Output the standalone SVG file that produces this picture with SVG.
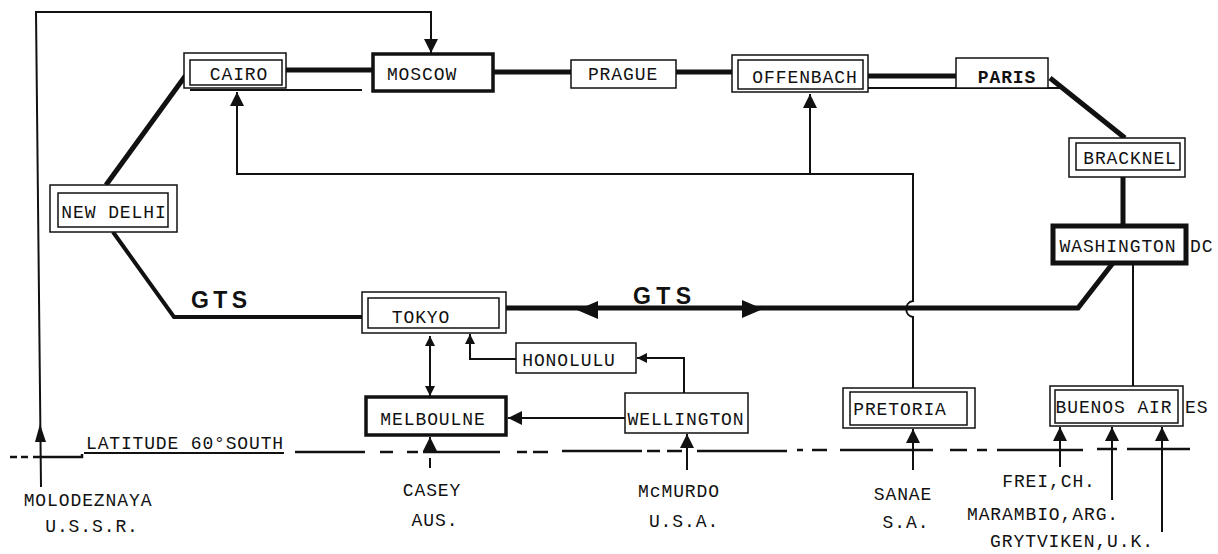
<svg xmlns="http://www.w3.org/2000/svg" width="1218" height="554" viewBox="0 0 1218 554">
<style>
.t{font-family:"Liberation Mono","DejaVu Sans Mono",monospace;font-size:18px;letter-spacing:0.9px;text-anchor:middle;fill:#111}
.b{font-weight:bold}
.g{font-family:"Liberation Sans",Arial,sans-serif;font-weight:bold;font-size:23px;fill:#111;text-anchor:middle}
.box{fill:#fff;stroke:#111;stroke-width:1.5}
.inner{fill:none;stroke:#111;stroke-width:1.5}
.thin{fill:none;stroke:#111;stroke-width:2}
.thick{fill:none;stroke:#111;stroke-width:5}
.lat{fill:none;stroke:#111;stroke-width:2.5}
.ah{fill:#111}
</style>
<defs>
<marker id="arr" viewBox="0 0 10 10" refX="10" refY="5" markerWidth="10" markerHeight="10" markerUnits="userSpaceOnUse" orient="auto-start-reverse">
<path d="M0,0 L10,5 L0,10 z" fill="#111"/>
</marker>
<marker id="arrB" viewBox="0 0 12 12" refX="12" refY="6" markerWidth="14" markerHeight="14" markerUnits="userSpaceOnUse" orient="auto-start-reverse">
<path d="M0,0 L12,6 L0,12 z" fill="#111"/>
</marker>
</defs>
<rect width="1218" height="554" fill="#fff"/>
<g id="connectors">
<path class="thin" d="M41,487 L36,12 H431 V53" marker-end="url(#arrB)"/>
<polygon class="ah" points="40,424 35,442 46,442"/>
<path class="thin" d="M913,388 V317 C904,316 904,302 913,301 V174 H237 V92" marker-end="url(#arrB)"/>
<path class="thin" d="M810,174 V94" marker-end="url(#arrB)"/>
<path class="thin" d="M1133,265 V386"/>
<path class="thin" d="M430,396 V336" marker-start="url(#arr)" marker-end="url(#arr)"/>
<path class="thin" d="M516,359 H470 V334" marker-end="url(#arr)"/>
<path class="thin" d="M684,393 V358 H637" marker-end="url(#arr)"/>
<path class="thin" d="M625,418 H508" marker-end="url(#arrB)"/>
<path class="thin" d="M430,452 V437" marker-end="url(#arrB)"/>
<path class="thin" d="M430,458 V468"/>
<path class="thin" d="M687,470 V434" marker-end="url(#arrB)"/>
<path class="thin" d="M913,470 V429" marker-end="url(#arrB)"/>
<path class="thin" d="M1060,467 V427" marker-end="url(#arrB)"/>
<path class="thin" d="M1112,500 V427" marker-end="url(#arrB)"/>
<path class="thin" d="M1162,532 V427" marker-end="url(#arrB)"/>
<path class="thick" d="M286,70 H373"/>
<path class="thick" d="M493,72 H571"/>
<path class="thick" d="M676,72 H732"/>
<path class="thick" d="M868,76 H956"/>
<path class="thin" d="M868,88 H1060"/>
<path class="thin" d="M190,90 H362"/>
<path class="thick" d="M1050,78 L1125,138"/>
<path class="thick" d="M1123,177 V226"/>
<path class="thick" d="M1113,263 L1078,308 H506"/>
<polygon class="ah" points="577,310 598,301 598,319"/>
<polygon class="ah" points="763,309 742,300 742,318"/>
<path class="thick" d="M186,75 L106,185"/>
<path class="thick" d="M113,232 L174,317 H362" style="stroke-width:4"/>
<path class="lat" d="M10,457 H17 M21,457 H28 M33,457 H82 V454 M295,452 H365 M380,452 H393 M407,452 H418 M423,452 H500 M517,452 H527 M533,452 H548 M562,451 H642 M647,451 H660 M667,451 H682 M697,451 H787 M797,450 H803 M812,450 H827 M840,450 H933 M950,450 H967 M977,450 H987 M997,450 H1083 M1097,449 H1117 M1127,449 H1190"/>
<path class="thin" d="M84,453 H284"/>
</g>
<g id="labels">
<text class="g" x="219" y="308" textLength="56" lengthAdjust="spacing">GTS</text>
<text class="g" x="662" y="304" textLength="58" lengthAdjust="spacing">GTS</text>
<text class="t" x="185" y="449" textLength="198">LATITUDE 60°SOUTH</text>
</g>
<g id="cairo"><rect class="box" x="184" y="53" width="102" height="35"/><rect class="inner" x="190" y="60" width="92" height="25"/><text class="t" x="239" y="80">CAIRO</text></g>
<g id="moscow"><rect class="box" x="373" y="54" width="120" height="37" style="stroke-width:3.5"/><text class="t" x="422" y="80">MOSCOW</text></g>
<g id="prague"><rect class="box" x="571" y="60" width="105" height="28"/><text class="t" x="623" y="80">PRAGUE</text></g>
<g id="offenbach"><rect class="box" x="732" y="55" width="136" height="37"/><rect class="inner" x="738" y="60" width="125" height="29"/><text class="t" x="805" y="83">OFFENBACH</text></g>
<g id="paris"><rect class="box" x="956" y="58" width="92" height="30"/><text class="t b" x="1007" y="83">PARIS</text></g>
<g id="bracknel"><rect class="box" x="1069" y="138" width="116" height="39"/><rect class="inner" x="1076" y="143" width="104" height="27"/><text class="t" x="1130" y="164">BRACKNEL</text></g>
<g id="washington"><rect class="box" x="1053" y="226" width="133" height="37" style="stroke-width:5"/><text class="t" x="1118" y="252">WASHINGTON</text><text class="t" x="1190" y="252" style="text-anchor:start">DC</text></g>
<g id="newdelhi"><rect class="box" x="50" y="185" width="127" height="47"/><rect class="inner" x="58" y="193" width="110" height="34"/><text class="t" x="114" y="218">NEW DELHI</text></g>
<g id="tokyo"><rect class="box" x="362" y="292" width="144" height="41"/><rect class="inner" x="368" y="298" width="131" height="30"/><text class="t" x="421" y="323">TOKYO</text></g>
<g id="honolulu"><rect class="box" x="516" y="343" width="120" height="30"/><text class="t" x="569" y="366">HONOLULU</text></g>
<g id="melboulne"><rect class="box" x="366" y="397" width="140" height="38" style="stroke-width:3.5"/><text class="t" x="433" y="425">MELBOULNE</text></g>
<g id="wellington"><rect class="box" x="625" y="393" width="123" height="40"/><text class="t" x="686" y="425">WELLINGTON</text></g>
<g id="pretoria"><rect class="box" x="843" y="388" width="132" height="40"/><rect class="inner" x="850" y="392" width="117" height="33"/><text class="t" x="900" y="415">PRETORIA</text></g>
<g id="buenosaires"><rect class="box" x="1050" y="386" width="133" height="40"/><rect class="inner" x="1055" y="390" width="123" height="33"/><text class="t" x="1114" y="413">BUENOS AIR</text><text class="t" x="1185" y="413" style="text-anchor:start">ES</text></g>
<g id="stations">
<text class="t" x="88" y="506">MOLODEZNAYA</text>
<text class="t" x="92" y="532">U.S.S.R.</text>
<text class="t" x="432" y="496">CASEY</text>
<text class="t" x="435" y="526">AUS.</text>
<text class="t" x="679" y="497">McMURDO</text>
<text class="t" x="684" y="527">U.S.A.</text>
<text class="t" x="903" y="500">SANAE</text>
<text class="t" x="906" y="528">S.A.</text>
<text class="t" x="1049" y="487">FREI,CH.</text>
<text class="t" x="1043" y="520">MARAMBIO,ARG.</text>
<text class="t" x="1072" y="547">GRYTVIKEN,U.K.</text>
</g>
</svg>
